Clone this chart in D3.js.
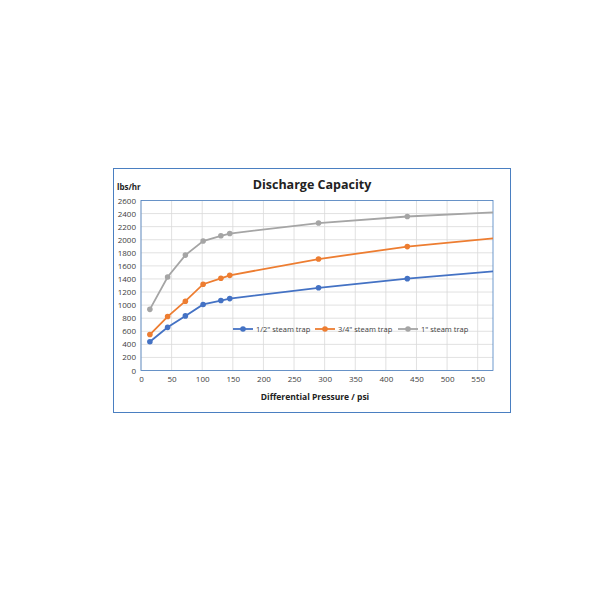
<!DOCTYPE html>
<html>
<head>
<meta charset="utf-8">
<script src="https://cdn.jsdelivr.net/npm/d3@7"></script>
<style>
body { margin: 0; background: #fff; }
text { font-family: "Open Sans", "Noto Sans", sans-serif; }
</style>
</head>
<body>
<svg id="chart" width="600" height="600"></svg>
<script>
var pressure = [14.5, 43.5, 72.5, 101.5, 130.5, 145, 290, 435, 580];
var halfInch = [440, 660, 835, 1010, 1070, 1100, 1265, 1405, 1520];
var threeQuarter = [550, 825, 1060, 1320, 1410, 1455, 1705, 1895, 2025];
var oneInch = [935, 1430, 1765, 1980, 2060, 2095, 2255, 2355, 2420];
var seriesNames = ['1/2" steam trap', '3/4" steam trap', '1" steam trap'];
var colors = ['#4472c4', '#ed7d31', '#a5a5a5'];
var xTicks = d3.range(0, 551, 50);
var yTicks = d3.range(0, 2601, 200);

var svg = d3.select('#chart');
var plotLeft = 141, plotRight = 493, plotTop = 200.5, plotBottom = 370.5;

svg.append('rect').attr('x', 113.5).attr('y', 168.5).attr('width', 397).attr('height', 244)
    .attr('fill', '#fff').attr('stroke', '#4a7fc1').attr('stroke-width', 1);

var x = d3.scaleLinear().domain([0, 575]).range([plotLeft, plotRight]);
var y = d3.scaleLinear().domain([0, 2600]).range([plotBottom, plotTop]);

// grid
svg.append('g').selectAll('line').data(yTicks).join('line')
    .attr('x1', plotLeft).attr('x2', plotRight).attr('y1', function(d) { return y(d); }).attr('y2', function(d) { return y(d); })
    .attr('stroke', '#d9d9d9').attr('stroke-width', 0.8);
svg.append('g').selectAll('line').data(xTicks).join('line')
    .attr('y1', plotTop).attr('y2', plotBottom).attr('x1', function(d) { return x(d); }).attr('x2', function(d) { return x(d); })
    .attr('stroke', '#d9d9d9').attr('stroke-width', 0.8);
svg.append('rect').attr('x', plotLeft).attr('y', plotTop).attr('width', plotRight - plotLeft).attr('height', plotBottom - plotTop)
    .attr('fill', 'none').attr('stroke', '#4a7fc1').attr('stroke-width', 0.8);

var xAxis = svg.append('g').attr('transform', 'translate(0,' + plotBottom + ')')
    .call(d3.axisBottom(x).tickValues(xTicks).tickSize(0).tickPadding(6));
var yAxis = svg.append('g').attr('transform', 'translate(' + plotLeft + ',0)')
    .call(d3.axisLeft(y).tickValues(yTicks).tickSize(0).tickPadding(5).tickFormat(d3.format('d')));
[xAxis, yAxis].forEach(function(a) {
    a.select('.domain').remove();
    a.selectAll('text').attr('font-size', 8).attr('fill', '#404040').style('font-family', '"Open Sans", sans-serif');
});

svg.append('defs').append('clipPath').attr('id', 'plotClip').append('rect')
    .attr('x', plotLeft).attr('y', plotTop - 5).attr('width', plotRight - plotLeft).attr('height', plotBottom - plotTop + 10);

var line = d3.line().x(function(d) { return x(d[0]); }).y(function(d) { return y(d[1]); });
[halfInch, threeQuarter, oneInch].forEach(function(values, i) {
    var pts = pressure.map(function(p, j) { return [p, values[j]]; });
    var g = svg.append('g').attr('clip-path', 'url(#plotClip)');
    g.append('path').datum(pts).attr('d', line).attr('fill', 'none')
        .attr('stroke', colors[i]).attr('stroke-width', 1.8);
    g.selectAll('circle').data(pts.slice(0, -1)).join('circle')
        .attr('cx', function(d) { return x(d[0]); }).attr('cy', function(d) { return y(d[1]); })
        .attr('r', 2.8).attr('fill', colors[i]);
});

// legend
var legendX = [233, 315, 398];
seriesNames.forEach(function(name, i) {
    var g = svg.append('g').attr('transform', 'translate(' + legendX[i] + ',329)');
    g.append('line').attr('x1', 0).attr('x2', 20).attr('stroke', colors[i]).attr('stroke-width', 1.8);
    g.append('circle').attr('cx', 10).attr('r', 2.8).attr('fill', colors[i]);
    g.append('text').attr('x', 23).attr('y', 3).attr('font-size', 7.5).attr('fill', '#404040').text(name);
});

svg.append('text').attr('x', 312).attr('y', 189).attr('text-anchor', 'middle')
    .attr('font-size', 12.5).attr('font-weight', 'bold').attr('fill', '#222').text('Discharge Capacity');
svg.append('text').attr('x', 117).attr('y', 190)
    .attr('font-size', 8).attr('font-weight', 'bold').attr('fill', '#222').text('lbs/hr');
svg.append('text').attr('x', 315).attr('y', 400).attr('text-anchor', 'middle')
    .attr('font-size', 8.5).attr('font-weight', 'bold').attr('fill', '#222').text('Differential Pressure  / psi');
</script>
</body>
</html>
